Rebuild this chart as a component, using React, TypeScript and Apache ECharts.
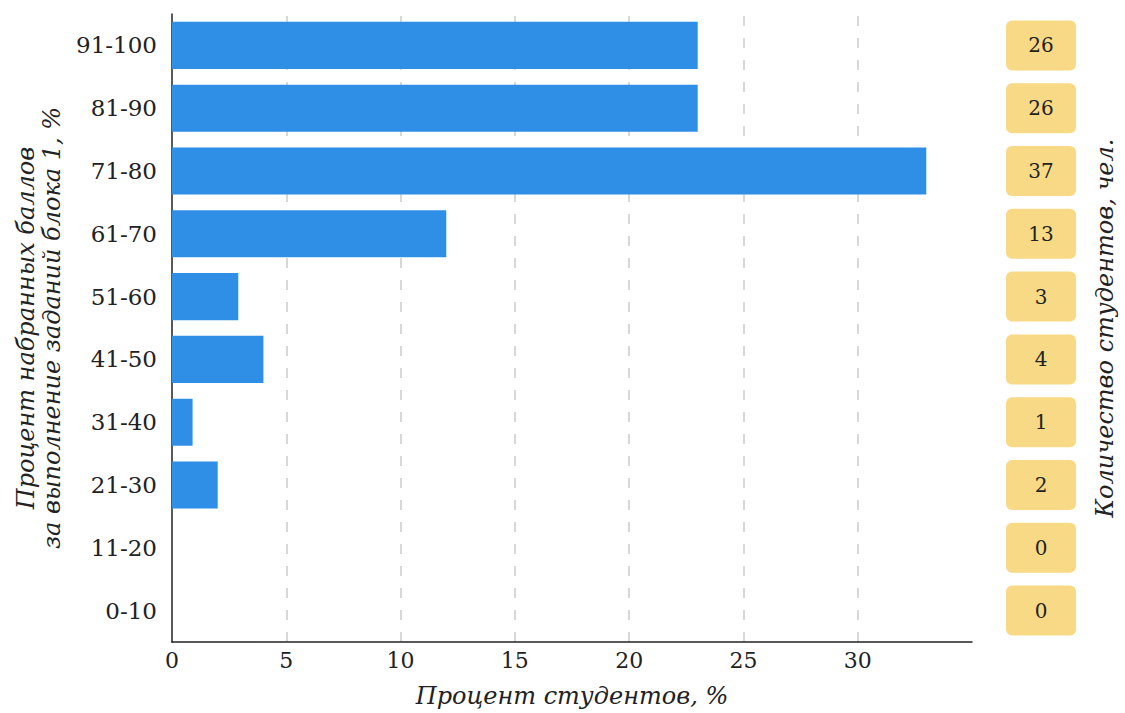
import React, { useEffect, useRef } from "react";
import * as echarts from "echarts";

const categories = ["0-10", "11-20", "21-30", "31-40", "41-50", "51-60", "61-70", "71-80", "81-90", "91-100"];
const percentValues = [0, 0, 2, 0.9, 4, 2.9, 12, 33, 23, 23];
const studentCounts = [0, 0, 2, 1, 4, 3, 13, 37, 26, 26];
const gridTicks = [5, 10, 15, 20, 25, 30];

const xAxisTitle = "Процент студентов, %";
const leftAxisTitle = "Процент набранных баллов\nза выполнение заданий блока 1, %";
const rightAxisTitle = "Количество студентов, чел.";

const FONT = "DejaVu Serif";

export default function App() {
  const ref = useRef<HTMLDivElement>(null);
  useEffect(() => {
    if (!ref.current) return;
    const chart = echarts.init(ref.current, null, { renderer: "svg" });
    chart.setOption({
      animation: false,
      backgroundColor: "#ffffff",
      grid: { left: 172, right: 147, top: 14, bottom: 68, containLabel: false },
      xAxis: {
        type: "value",
        min: 0,
        max: 35,
        interval: 5,
        axisLine: { show: true, lineStyle: { color: "#222", width: 1.5 } },
        axisTick: { show: false },
        splitLine: { show: false },
        axisLabel: {
          color: "#222",
          fontFamily: FONT,
          fontSize: 22,
          margin: 7,
          formatter: (v: number) => (v === 35 ? "" : String(v)),
        },
        name: xAxisTitle,
        nameLocation: "middle",
        nameGap: 42,
        nameTextStyle: { color: "#222", fontFamily: FONT, fontStyle: "italic", fontSize: 24 },
      },
      yAxis: [
        {
          type: "category",
          data: categories,
          axisLine: { show: true, lineStyle: { color: "#222", width: 1.5 } },
          axisTick: { show: false },
          axisLabel: { color: "#222", fontFamily: FONT, fontSize: 23, margin: 15 },
          name: leftAxisTitle,
          nameLocation: "middle",
          nameRotate: 90,
          nameGap: 102,
          nameTextStyle: { color: "#222", fontFamily: FONT, fontStyle: "italic", fontSize: 24, lineHeight: 26 },
        },
        {
          type: "category",
          data: studentCounts.map(String),
          position: "right",
          axisLine: { show: false },
          axisTick: { show: false },
          axisLabel: {
            margin: 34,
            formatter: (v: string) => "{b|" + v + "}",
            rich: {
              b: {
                width: 70,
                height: 50,
                align: "center",
                verticalAlign: "middle",
                backgroundColor: "#F8DA86",
                borderRadius: 6,
                color: "#222",
                fontFamily: FONT,
                fontSize: 20,
              },
            },
          },
          name: rightAxisTitle,
          nameLocation: "middle",
          nameRotate: 90,
          nameGap: 121,
          nameTextStyle: { color: "#222", fontFamily: FONT, fontStyle: "italic", fontSize: 24 },
        },
      ],
      series: [
        {
          type: "bar",
          data: percentValues,
          yAxisIndex: 0,
          barCategoryGap: "25%",
          itemStyle: { color: "#2F8FE7" },
          markLine: {
            silent: true,
            symbol: "none",
            label: { show: false },
            lineStyle: { color: "#cccccc", width: 1.5, type: [10, 12] },
            data: gridTicks.map((t) => ({ xAxis: t })),
            z: 0,
          },
          z: 2,
        },
      ],
    });
    return () => chart.dispose();
  }, []);
  return (
    <div
      ref={ref}
      style={{ position: "fixed", left: 0, top: 0, width: 1125, height: 713, overflow: "hidden" }}
    />
  );
}
